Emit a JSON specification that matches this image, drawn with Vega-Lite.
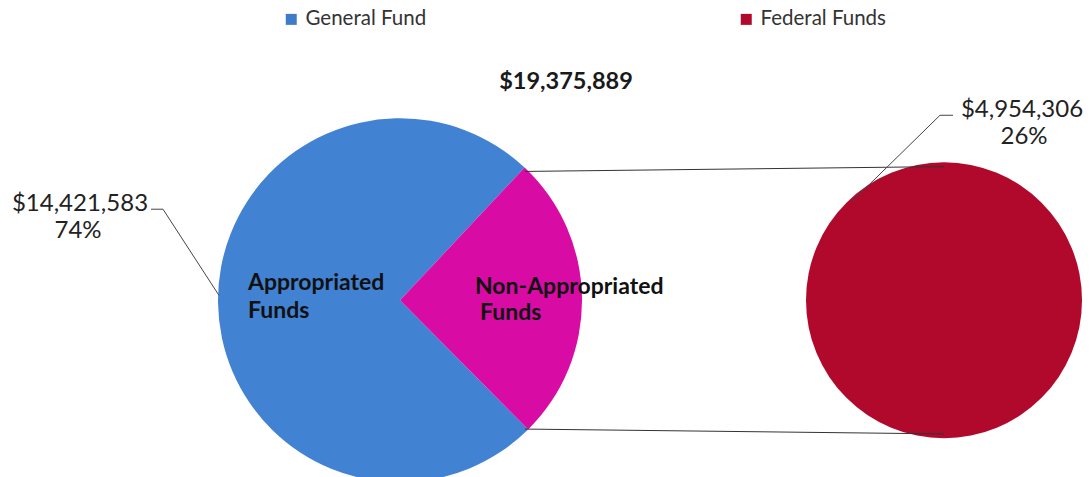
{
  "$schema": "https://vega.github.io/schema/vega-lite/v6.json",
  "width": 1092,
  "height": 477,
  "autosize": {"type": "fit", "contains": "padding"},
  "padding": 0,
  "background": "white",
  "config": {"view": {"stroke": null}, "font": "Lato"},
  "datasets": {
    "funds": [
      {"category": "Appropriated Funds", "source": "General Fund", "amount": 14421583, "pct": 0.74},
      {"category": "Non-Appropriated Funds", "source": "Federal Funds", "amount": 4954306, "pct": 0.26}
    ]
  },
  "data": {"name": "funds"},
  "layer": [
    {
      "mark": {"type": "arc", "outerRadius": 182},
      "encoding": {
        "x": {"datum": 400, "type": "quantitative", "scale": {"domain": [0, 1092], "nice": false, "zero": false}, "axis": null},
        "y": {"datum": 310, "type": "quantitative", "scale": {"domain": [0, 477], "nice": false, "zero": false, "reverse": true}, "axis": null},
        "theta": {"field": "amount", "type": "quantitative", "stack": true, "scale": {"range": [0.754, 7.037]}},
        "order": {"field": "amount", "sort": "ascending"},
        "fill": {"field": "category", "type": "nominal", "scale": {"domain": ["Appropriated Funds", "Non-Appropriated Funds"], "range": ["#4282D2", "#D80BA4"]}, "legend": null}
      }
    },
    {
      "transform": [{"filter": "datum.source === 'Federal Funds'"}],
      "mark": {"type": "arc", "outerRadius": 138},
      "encoding": {
        "x": {"datum": 944, "type": "quantitative"},
        "y": {"datum": 310, "type": "quantitative"},
        "theta": {"field": "amount", "type": "quantitative", "stack": true},
        "color": {
          "field": "source", "type": "nominal",
          "scale": {"domain": ["General Fund", "Federal Funds"], "range": ["#3F7CC8", "#B1092B"]},
          "legend": {
            "title": null, "orient": "none", "legendX": 281, "legendY": 9, "direction": "horizontal",
            "symbolType": "square", "symbolSize": 121, "symbolStrokeWidth": 0, "symbolOpacity": 1,
            "labelFontSize": 20.5, "labelFont": "Lato", "labelColor": "#333333", "labelOffset": 4,
            "columnPadding": 309, "padding": 0
          }
        }
      }
    },
    {
      "data": {"values": [{}]},
      "mark": {"type": "rule", "color": "#333333", "strokeWidth": 1},
      "encoding": {
        "x": {"datum": 525, "type": "quantitative"},
        "y": {"datum": 177, "type": "quantitative"},
        "x2": {"datum": 944},
        "y2": {"datum": 172}
      }
    },
    {
      "data": {"values": [{}]},
      "mark": {"type": "rule", "color": "#333333", "strokeWidth": 1},
      "encoding": {
        "x": {"datum": 525, "type": "quantitative"},
        "y": {"datum": 443, "type": "quantitative"},
        "x2": {"datum": 944},
        "y2": {"datum": 448}
      }
    },
    {
      "data": {"values": [{}]},
      "mark": {"type": "rule", "color": "#444444", "strokeWidth": 1},
      "encoding": {
        "x": {"datum": 151, "type": "quantitative"},
        "y": {"datum": 216, "type": "quantitative"},
        "x2": {"datum": 163},
        "y2": {"datum": 216}
      }
    },
    {
      "data": {"values": [{}]},
      "mark": {"type": "rule", "color": "#444444", "strokeWidth": 1},
      "encoding": {
        "x": {"datum": 163, "type": "quantitative"},
        "y": {"datum": 216, "type": "quantitative"},
        "x2": {"datum": 219},
        "y2": {"datum": 305}
      }
    },
    {
      "data": {"values": [{}]},
      "mark": {"type": "rule", "color": "#444444", "strokeWidth": 1},
      "encoding": {
        "x": {"datum": 940, "type": "quantitative"},
        "y": {"datum": 119, "type": "quantitative"},
        "x2": {"datum": 953},
        "y2": {"datum": 119}
      }
    },
    {
      "data": {"values": [{}]},
      "mark": {"type": "rule", "color": "#444444", "strokeWidth": 1},
      "encoding": {
        "x": {"datum": 940, "type": "quantitative"},
        "y": {"datum": 119, "type": "quantitative"},
        "x2": {"datum": 852},
        "y2": {"datum": 208}
      }
    },
    {
      "mark": {"type": "text", "fontSize": 23.5, "fontWeight": "bold", "color": "#1a1a1a", "align": "center", "baseline": "middle"},
      "encoding": {
        "x": {"datum": 566, "type": "quantitative"},
        "y": {"datum": 85, "type": "quantitative"},
        "text": {"aggregate": "sum", "field": "amount", "type": "quantitative", "format": "$,d"}
      }
    },
    {
      "transform": [{"filter": "datum.source === 'General Fund'"}],
      "mark": {"type": "text", "fontSize": 24, "color": "#222222", "align": "center", "baseline": "middle"},
      "encoding": {
        "x": {"datum": 80, "type": "quantitative"},
        "y": {"datum": 211, "type": "quantitative"},
        "text": {"field": "amount", "type": "quantitative", "format": "$,d"}
      }
    },
    {
      "transform": [{"filter": "datum.source === 'General Fund'"}],
      "mark": {"type": "text", "fontSize": 24, "color": "#222222", "align": "center", "baseline": "middle"},
      "encoding": {
        "x": {"datum": 78, "type": "quantitative"},
        "y": {"datum": 239, "type": "quantitative"},
        "text": {"field": "pct", "type": "quantitative", "format": ".0%"}
      }
    },
    {
      "transform": [{"filter": "datum.source === 'Federal Funds'"}],
      "mark": {"type": "text", "fontSize": 24, "color": "#222222", "align": "center", "baseline": "middle"},
      "encoding": {
        "x": {"datum": 1022, "type": "quantitative"},
        "y": {"datum": 114, "type": "quantitative"},
        "text": {"field": "amount", "type": "quantitative", "format": "$,d"}
      }
    },
    {
      "transform": [{"filter": "datum.source === 'Federal Funds'"}],
      "mark": {"type": "text", "fontSize": 24, "color": "#222222", "align": "center", "baseline": "middle"},
      "encoding": {
        "x": {"datum": 1024, "type": "quantitative"},
        "y": {"datum": 141, "type": "quantitative"},
        "text": {"field": "pct", "type": "quantitative", "format": ".0%"}
      }
    },
    {
      "transform": [{"filter": "datum.source === 'General Fund'"}],
      "mark": {"type": "text", "fontSize": 23, "fontWeight": "bold", "color": "#111111", "align": "left", "baseline": "alphabetic", "lineHeight": 28},
      "encoding": {
        "x": {"datum": 248, "type": "quantitative"},
        "y": {"datum": 299, "type": "quantitative"},
        "text": {"value": ["Appropriated", "Funds"]}
      }
    },
    {
      "transform": [{"filter": "datum.source === 'Federal Funds'"}],
      "mark": {"type": "text", "fontSize": 23, "fontWeight": "bold", "color": "#111111", "align": "left", "baseline": "alphabetic"},
      "encoding": {
        "x": {"datum": 475, "type": "quantitative"},
        "y": {"datum": 304, "type": "quantitative"},
        "text": {"value": "Non-Appropriated"}
      }
    },
    {
      "transform": [{"filter": "datum.source === 'Federal Funds'"}],
      "mark": {"type": "text", "fontSize": 23, "fontWeight": "bold", "color": "#111111", "align": "left", "baseline": "alphabetic"},
      "encoding": {
        "x": {"datum": 480, "type": "quantitative"},
        "y": {"datum": 330, "type": "quantitative"},
        "text": {"value": "Funds"}
      }
    }
  ],
  "resolve": {"scale": {"theta": "independent"}}
}
